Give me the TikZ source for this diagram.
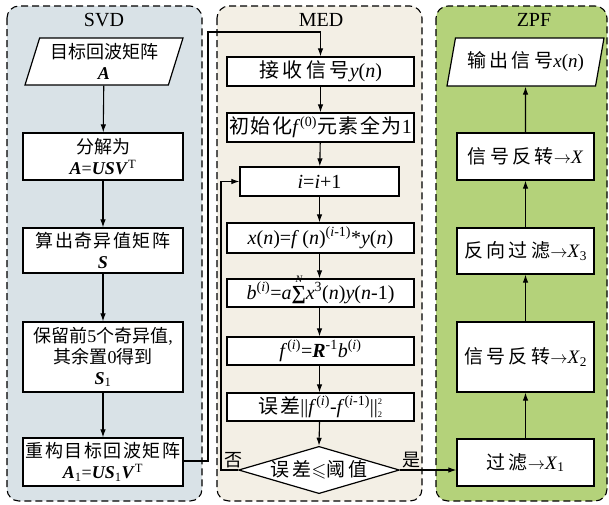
\documentclass[tikz,border=0pt]{standalone}
\usepackage{fontspec}
\usepackage{amssymb}
\setmainfont{Liberation Serif}
\newfontfamily\cjk{Noto Sans CJK SC}
\newfontfamily\cjkw[LetterSpace=18]{Noto Sans CJK SC}
\newfontfamily\cjkm[LetterSpace=8]{Noto Sans CJK SC}
\usetikzlibrary{shapes.geometric,arrows.meta,calc}
\newcommand{\bi}[1]{\textbf{\textit{#1}}}
\newcommand{\vi}[1]{\textit{#1}}
\newcommand{\tinyfs}{\fontsize{10}{10}\selectfont}
\newcommand{\smallfs}{\fontsize{8.5}{8.5}\selectfont}
\definecolor{svdbg}{HTML}{D9E2E7}
\definecolor{medbg}{HTML}{F3EFE5}
\definecolor{zpfbg}{HTML}{B4D27A}
\begin{document}
\begin{tikzpicture}[x=1pt,y=-1pt,
  font=\fontsize{18}{21}\selectfont,
  panel/.style={draw, line width=1.1pt, dash pattern=on 7pt off 4pt, rounded corners=12pt},
  box/.style={draw, fill=white, line width=1.2pt, align=center, inner sep=1pt},
  mbox/.style={box, font=\fontsize{20}{22}\selectfont},
  para/.style={trapezium, trapezium left angle=69, trapezium right angle=111,
    trapezium stretches body, draw, fill=white, line width=1.2pt, align=center, inner sep=1pt},
  arr/.style={-{Latex[length=8pt,width=5.5pt]}, line width=1.1pt},
  ttl/.style={font=\fontsize{20}{22}\selectfont}
]
\fill[white] (0,0) rectangle (609,504);
\useasboundingbox (0,0) rectangle (609,504);

% panels
\draw[panel, fill=svdbg] (7,6) rectangle (202,501);
\draw[panel, fill=medbg] (217,6) rectangle (422,501);
\draw[panel, fill=zpfbg] (436,6) rectangle (607,501);
\node[ttl] (tsvd) at (104,20) {SVD};
\node[ttl] (tmed) at (321,20) {MED};
\node[ttl] (tzpf) at (534,20) {ZPF};

% SVD
\node[para, minimum width=158pt, minimum height=47pt] (A) at (104,61.5)
  {{\cjk 目标回波矩阵}\\\bi{A}};
\node[box, minimum width=160pt, minimum height=47pt] (B1) at (103,156.5)
  {{\cjk 分解为}\\\bi{A}=\bi{USV}\textsuperscript{T}};
\node[box, minimum width=160pt, minimum height=45pt] (B2) at (103,250.5)
  {{\cjkm 算出奇异值矩阵}\\\bi{S}};
\node[box, minimum width=160pt, minimum height=70pt] (B3) at (103,357)
  {{\cjk 保留前}5{\cjk 个奇异值},\\{\cjk 其余置}0{\cjk 得到}\\\bi{S}\textsubscript{1}};
\node[box, minimum width=160pt, minimum height=48pt] (B4) at (103,462)
  {{\cjkm 重构目标回波矩阵}\\\bi{A}\textsubscript{1}=\bi{US}\textsubscript{1}\bi{V}\textsuperscript{T}};

% MED
\node[mbox, minimum width=187pt, minimum height=29pt] (M1) at (320.5,71.5)
  {{\cjkw 接收信号}\vi{y}(\vi{n})};
\node[mbox, minimum width=187pt, minimum height=29pt] (M2) at (320.5,127.5)
  {{\cjkm 初始化}\vi{f}\textsuperscript{(0)}{\cjkm 元素全为}1};
\node[mbox, minimum width=159pt, minimum height=29pt] (M3) at (319.5,181.5)
  {\vi{i}=\vi{i}+1};
\node[mbox, minimum width=187pt, minimum height=30pt] (M4) at (320.5,238)
  {\vi{x}(\vi{n})=\vi{f}\,(\vi{n})\textsuperscript{(\vi{i}-1)}*\vi{y}(\vi{n})};
\node[mbox, minimum width=187pt, minimum height=28pt] (M5) at (320.5,293)
  {\vi{b}\textsuperscript{(\vi{i})}=\vi{a}\smash{\makebox[0pt][l]{\hspace{4pt}\raisebox{17pt}{\tinyfs\textit{N}}}}\textbf{∑}\vi{x}\textsuperscript{3}(\vi{n})\vi{y}(\vi{n}-1)};
\node[mbox, minimum width=187pt, minimum height=28pt] (M6) at (320.5,351)
  {\vi{f}\textsuperscript{(\vi{i})}=\bi{R}\textsuperscript{-1}\vi{b}\textsuperscript{(\vi{i})}};
\node[mbox, minimum width=187pt, minimum height=28pt] (M7) at (320.5,407)
  {{\cjkm 误差}||\vi{f}\textsuperscript{(\vi{i})}-\vi{f}\textsuperscript{(\vi{i}-1)}||\smash{\makebox[0pt][l]{\raisebox{8.5pt}{\smallfs 2}}\raisebox{-4.5pt}{\smallfs 2}}};
\node[diamond, draw, fill=white, line width=1.2pt, inner sep=0pt, shape aspect=3.4,
  minimum width=158pt, minimum height=46pt, font=\fontsize{19}{22}\selectfont] (D) at (319,470)
  {{\cjkw 误差}$\leqslant${\cjkw 阈值}};

% ZPF
\node[para, minimum width=157pt, minimum height=48pt, font=\fontsize{19}{22}\selectfont] (Z0) at (525.5,62)
  {{\cjkw 输出信号}\vi{x}(\vi{n})};
\node[box, minimum width=137pt, minimum height=47pt, font=\fontsize{19}{22}\selectfont] (Z1) at (525.5,156.5)
  {{\cjkw 信号反转}$\rightarrow$\vi{X}};
\node[box, minimum width=137pt, minimum height=46pt, font=\fontsize{19}{22}\selectfont] (Z2) at (525.5,251)
  {{\cjkw 反向过滤}$\rightarrow$\vi{X}\textsubscript{3}};
\node[box, minimum width=137pt, minimum height=70pt, font=\fontsize{19}{22}\selectfont] (Z3) at (525.5,357)
  {{\cjkw 信号反转}$\rightarrow$\vi{X}\textsubscript{2}};
\node[box, minimum width=137pt, minimum height=47pt, font=\fontsize{19}{22}\selectfont] (Z4) at (525.5,462.5)
  {{\cjkw 过滤}$\rightarrow$\vi{X}\textsubscript{1}};

% labels
\node (no) at (233,460) {\cjk 否};
\node (yes) at (411,460) {\cjk 是};

% connectors SVD
\draw[arr] (A) -- (B1);
\draw[arr] (B1) -- (B2);
\draw[arr] (B2) -- (B3);
\draw[arr] (B3) -- (B4);
\coordinate (c1) at (208,461);
\coordinate (c2) at (208,32);
\draw[arr] (B4.east |- c1) -- (c1) -- (c2) -| (M1.north);

% MED
\draw[arr] (M1) -- (M2);
\draw[arr] (M2) -- (M3);
\draw[arr] (M3) -- (M3 |- M4.north);
\draw[arr] (M3 |- M4.south) -- (M3 |- M5.north);
\draw[arr] (M3 |- M5.south) -- (M3 |- M6.north);
\draw[arr] (M3 |- M6.south) -- (M3 |- M7.north);
\draw[arr] (M3 |- M7.south) -- (D.north);
\coordinate (c3) at (221,470);
\draw[arr] (D.west) -- (c3) |- (M3.west);
\draw[arr] (D.east) -- (D.east -| Z4.west);

% ZPF
\draw[arr] (Z4) -- (Z3);
\draw[arr] (Z3) -- (Z2);
\draw[arr] (Z2) -- (Z1);
\draw[arr] (Z1) -- (Z0);
\end{tikzpicture}
\end{document}
